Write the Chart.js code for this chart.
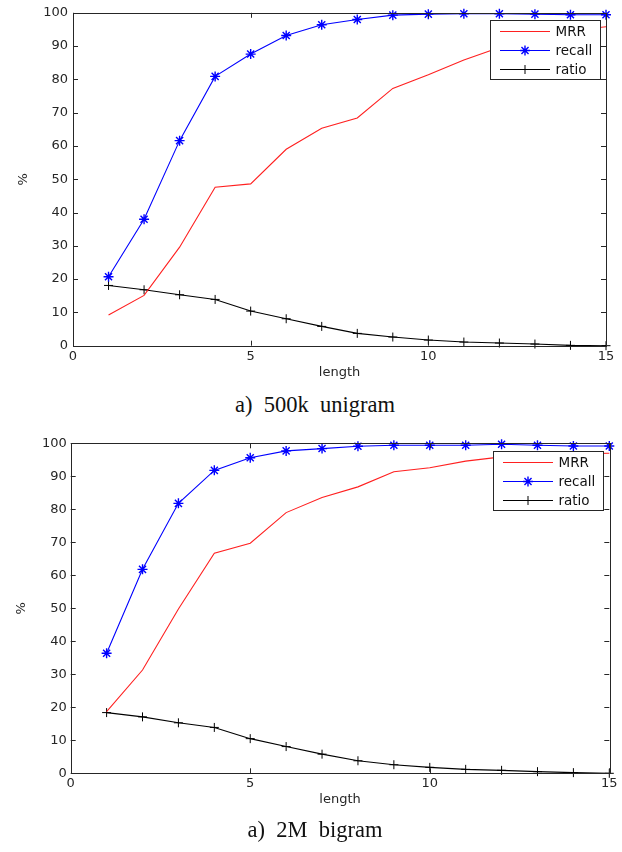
<!DOCTYPE html>
<html>
<head>
<meta charset="utf-8">
<script src="https://cdn.jsdelivr.net/npm/chart.js@4.4.0/dist/chart.umd.min.js"></script>
<style>
    body { margin: 0; background: #fff; width: 622px; height: 852px; position: relative; overflow: hidden; }
    .box { position: absolute; left: 0; width: 622px; }
    .cap { position: absolute; left: 0; width: 630px; text-align: center; font-family: "Liberation Serif", serif;
           font-size: 22.5px; line-height: 26px; white-space: pre; color: #111; }
</style>
</head>
<body>
<div class="box" style="top:0;height:392px"><canvas id="uniChart"></canvas></div>
<div class="cap" style="top:392px">a)  500k  unigram</div>
<div class="box" style="top:425px;height:400px"><canvas id="biChart"></canvas></div>
<div class="cap" style="top:817px">a)  2M  bigram</div>

<script>
const lengths = [1, 2, 3, 4, 5, 6, 7, 8, 9, 10, 11, 12, 13, 14, 15];

// 500k unigram
const mrrUni = [9.2, 15.1, 29.6, 47.6, 48.6, 59.0, 65.3, 68.4, 77.3, 81.4, 85.8, 89.6, 92.6, 94.6, 95.8];
const recallUni = [20.7, 38.0, 61.6, 80.9, 87.6, 93.2, 96.4, 98.0, 99.3, 99.6, 99.7, 99.7, 99.6, 99.4, 99.4];
const ratioUni = [18.1, 16.8, 15.3, 13.9, 10.4, 8.1, 5.8, 3.7, 2.6, 1.7, 1.1, 0.8, 0.5, 0.1, 0.0];

// 2M bigram
const mrrBi = [18.7, 31.3, 49.8, 66.7, 69.7, 79.0, 83.6, 86.8, 91.4, 92.6, 94.6, 95.9, 96.5, 96.8, 97.0];
const recallBi = [36.4, 61.8, 81.8, 91.8, 95.6, 97.7, 98.4, 99.1, 99.4, 99.4, 99.4, 99.7, 99.4, 99.2, 99.2];
const ratioBi = [18.4, 17.1, 15.3, 13.9, 10.5, 8.1, 5.8, 3.8, 2.6, 1.8, 1.2, 0.9, 0.5, 0.2, 0.0];

const seriesLabels = ['MRR', 'recall', 'ratio'];
const xTitle = 'length';
const yTitle = '%';

const axisColor = '#262626';
const tickFont = { family: 'DejaVu Sans', size: 13 };

// matlab style frame: full box, inward ticks, legend inside the axes
const matlabFrame = {
    id: 'matlabFrame',
    afterDatasetsDraw(chart) {
        const { ctx, chartArea: a, scales: { x, y } } = chart;
        ctx.save();
        ctx.strokeStyle = axisColor;
        ctx.lineWidth = 1;
        ctx.beginPath();
        x.ticks.forEach(t => {
            const px = Math.round(x.getPixelForValue(t.value)) + 0.5;
            ctx.moveTo(px, a.bottom); ctx.lineTo(px, a.bottom - 5);
            ctx.moveTo(px, a.top); ctx.lineTo(px, a.top + 5);
        });
        y.ticks.forEach(t => {
            const py = Math.round(y.getPixelForValue(t.value)) + 0.5;
            ctx.moveTo(a.left, py); ctx.lineTo(a.left + 5, py);
            ctx.moveTo(a.right, py); ctx.lineTo(a.right - 5, py);
        });
        ctx.stroke();
        ctx.strokeRect(Math.round(a.left) + 0.5, Math.round(a.top) + 0.5,
            Math.round(a.right - a.left), Math.round(a.bottom - a.top));

        // legend
        const lw = 110, lh = 59;
        const lx = Math.round(a.right - 6 - lw) + 0.5;
        const ly = Math.round(a.top + 7.5) + 0.5;
        ctx.fillStyle = '#fff';
        ctx.fillRect(lx, ly, lw, lh);
        ctx.strokeStyle = axisColor;
        ctx.strokeRect(lx, ly, lw, lh);
        ctx.font = '13.5px "DejaVu Sans"';
        ctx.textBaseline = 'middle';
        chart.data.datasets.forEach((ds, i) => {
            const ry = ly + 11 + i * 19;
            ctx.strokeStyle = ds.borderColor;
            ctx.beginPath();
            ctx.moveTo(lx + 9.5, ry); ctx.lineTo(lx + 59.5, ry);
            ctx.stroke();
            if (ds.pointRadius > 0) {
                ctx.lineWidth = ds.pointBorderWidth;
                Chart.helpers.drawPoint(ctx, { pointStyle: ds.pointStyle, radius: ds.pointRadius, borderWidth: ds.pointBorderWidth }, lx + 34.5, ry);
                ctx.lineWidth = 1;
            }
            ctx.fillStyle = '#111';
            ctx.fillText(ds.label, lx + 65, ry + 0.5);
        });
        ctx.restore();
    }
};

function toPoints(values) {
    return lengths.map((l, i) => ({ x: l, y: values[i] }));
}

function makeChart(id, mrr, recall, ratio, geo) {
    const ctx = document.getElementById(id).getContext('2d');
    return new Chart(ctx, {
        type: 'line',
        data: {
            datasets: [{
                label: seriesLabels[0],
                data: toPoints(mrr),
                borderColor: '#ff2020',
                borderWidth: 1.1,
                pointRadius: 0,
                clip: 10
            }, {
                label: seriesLabels[1],
                data: toPoints(recall),
                borderColor: '#0000ff',
                borderWidth: 1.1,
                pointStyle: 'star',
                pointRadius: 5,
                pointBorderWidth: 1.4,
                pointBorderColor: '#0000ff',
                clip: 10
            }, {
                label: seriesLabels[2],
                data: toPoints(ratio),
                borderColor: '#000',
                borderWidth: 1.1,
                pointStyle: 'cross',
                pointRadius: 4.5,
                pointBorderWidth: 1,
                pointBorderColor: '#000',
                clip: 10
            }]
        },
        options: {
            responsive: true,
            maintainAspectRatio: false,
            animation: false,
            layout: { padding: { top: geo.top, right: geo.right, bottom: geo.bottom, left: 0 } },
            plugins: { legend: { display: false }, tooltip: { enabled: false } },
            scales: {
                x: {
                    type: 'linear',
                    min: 0, max: 15,
                    afterFit: s => { s.height = geo.xHeight; },
                    ticks: { stepSize: 5, color: axisColor, font: tickFont, padding: geo.xPad, maxRotation: 0 },
                    grid: { display: false, drawTicks: false },
                    border: { display: false },
                    title: { display: true, text: xTitle, color: axisColor, font: { family: 'DejaVu Sans', size: 13 }, padding: 0 }
                },
                y: {
                    min: 0, max: 100,
                    afterFit: s => { s.width = geo.yWidth; },
                    ticks: { stepSize: 10, color: axisColor, font: tickFont, padding: geo.yPad },
                    grid: { display: false, drawTicks: false },
                    border: { display: false },
                    title: { display: true, text: yTitle, color: axisColor, font: { family: 'DejaVu Sans', size: 13 }, padding: { top: geo.yTitle, bottom: 0 } }
                }
            }
        },
        plugins: [matlabFrame]
    });
}

makeChart('uniChart', mrrUni, recallUni, ratioUni,
    { top: 11, right: 16, bottom: 11.5, xHeight: 34.8, yWidth: 73, xPad: 3.5, yPad: 5, yTitle: 15.5 });
makeChart('biChart', mrrBi, recallBi, ratioBi,
    { top: 18.3, right: 12.7, bottom: 17.8, xHeight: 33.9, yWidth: 70.7, xPad: 2.5, yPad: 4, yTitle: 14 });
</script>
</body>
</html>
